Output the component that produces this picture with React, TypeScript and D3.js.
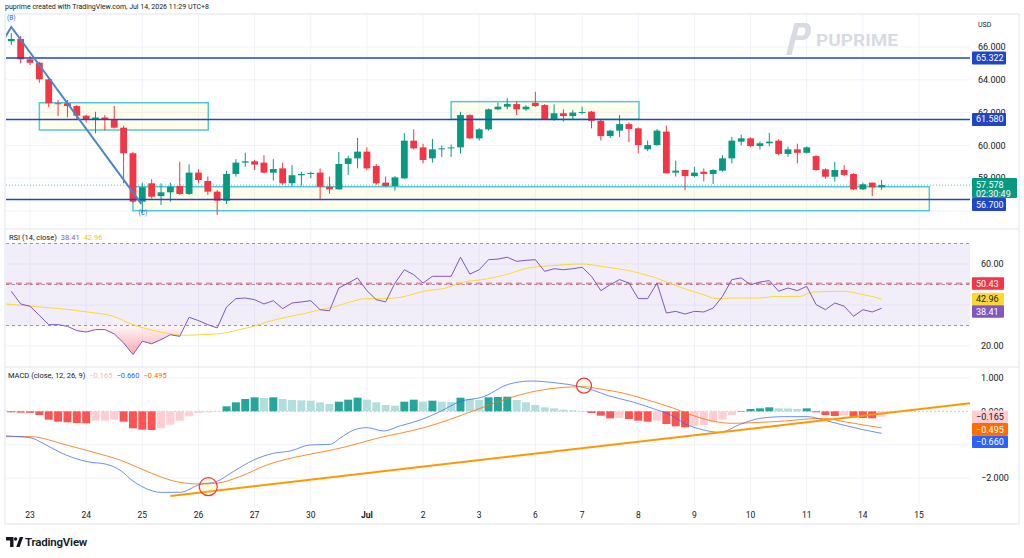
import React from 'react';
import * as d3 from 'd3';

const FONT = "Roboto, 'Noto Sans', 'DejaVu Sans', sans-serif";
const UP = '#089981';
const DOWN = '#f23645';

// 4h bars, index 0 is the first bar on screen
const opens = [
  66.35, 66.49, 65.25, 65.04, 64.03, 62.57, 62.57, 62.40, 61.81, 61.60,
  61.70, 61.60, 61.08, 59.52, 56.57, 57.69, 56.91, 57.14, 57.52, 57.04,
  58.34, 57.83, 57.18, 56.63, 58.26, 58.95, 59.03, 58.95, 58.34, 58.60,
  57.69, 58.18, 58.26, 58.34, 57.48, 57.32, 58.87, 59.21, 59.62, 58.74,
  57.73, 57.52, 57.99, 60.29, 59.88, 59.21, 59.76, 59.82, 59.88, 61.85,
  60.43, 60.98, 62.20, 62.36, 62.52, 62.20, 62.60, 62.46, 61.59, 61.96,
  61.79, 61.98, 62.06, 61.50, 60.57, 60.90, 61.30, 61.04, 59.76, 60.02,
  60.84, 58.34, 58.50, 58.13, 58.40, 58.26, 58.46, 59.21, 60.23, 60.43,
  59.96, 60.13, 60.29, 59.48, 59.76, 59.55, 59.35, 58.54, 58.09, 58.50,
  58.26, 57.32, 57.73, 57.45,
];
const highs = [
  66.84, 66.67, 65.45, 65.10, 64.05, 62.77, 62.77, 62.46, 61.87, 62.05,
  61.85, 62.40, 61.20, 59.60, 57.73, 57.94, 57.69, 57.73, 59.00, 58.84,
  58.55, 58.10, 57.28, 58.45, 59.16, 59.55, 59.12, 59.40, 59.16, 58.95,
  58.80, 58.40, 58.40, 58.60, 58.10, 59.60, 59.37, 60.45, 59.88, 58.87,
  58.10, 58.13, 60.75, 60.98, 60.10, 60.40, 60.00, 60.05, 62.05, 61.90,
  61.05, 62.25, 62.62, 62.87, 62.70, 62.45, 63.27, 62.52, 62.50, 62.20,
  62.15, 62.35, 62.10, 61.60, 60.95, 61.85, 61.40, 61.10, 60.30, 61.00,
  61.20, 59.07, 58.50, 58.70, 58.60, 58.55, 59.40, 60.53, 60.65, 60.50,
  60.23, 60.77, 60.38, 59.92, 60.10, 59.94, 59.40, 58.60, 59.00, 58.80,
  58.30, 57.73, 57.73, 57.90,
];
const lows = [
  66.12, 65.00, 64.90, 63.82, 62.33, 61.80, 61.71, 61.55, 61.40, 60.74,
  60.90, 61.04, 57.69, 56.50, 55.86, 56.76, 56.37, 56.57, 56.98, 56.98,
  57.69, 56.98, 55.76, 56.43, 58.10, 58.70, 58.50, 58.30, 57.85, 57.60,
  57.50, 57.55, 58.00, 56.67, 57.05, 57.30, 58.20, 58.60, 58.50, 57.60,
  57.46, 57.24, 57.95, 59.76, 58.90, 58.95, 59.30, 59.30, 59.50, 60.38,
  60.30, 60.90, 62.15, 62.20, 61.85, 62.10, 62.35, 61.55, 61.50, 61.45,
  61.55, 61.90, 61.04, 60.30, 60.45, 60.50, 60.20, 59.52, 59.65, 59.98,
  58.28, 58.10, 57.28, 58.05, 57.80, 57.65, 58.40, 58.90, 60.00, 59.90,
  59.75, 59.95, 59.40, 59.30, 58.90, 59.50, 58.45, 57.98, 57.79, 58.13,
  57.28, 57.28, 56.91, 57.30,
];
const closes = [
  66.49, 65.25, 65.04, 64.03, 62.57, 62.55, 62.40, 61.81, 61.55, 61.70,
  61.55, 61.08, 59.52, 56.57, 57.45, 56.87, 57.14, 57.48, 57.04, 58.34,
  57.89, 57.18, 56.63, 58.26, 58.95, 59.03, 58.83, 58.34, 58.56, 57.69,
  58.18, 58.26, 58.32, 57.48, 57.32, 58.87, 59.21, 59.62, 58.60, 57.69,
  57.52, 58.05, 60.29, 59.82, 59.11, 59.76, 59.82, 59.88, 61.85, 60.43,
  60.98, 62.20, 62.36, 62.52, 62.20, 62.36, 62.40, 61.59, 61.96, 61.79,
  62.00, 62.04, 61.50, 60.57, 60.90, 61.30, 61.00, 60.02, 60.02, 60.90,
  58.30, 58.46, 58.13, 58.34, 58.26, 58.50, 59.21, 60.29, 60.43, 59.96,
  60.13, 60.23, 59.48, 59.76, 59.55, 59.88, 58.50, 58.09, 58.50, 58.20,
  57.32, 57.63, 57.45, 57.578,
];

const rsiValues = [
  46.7, 40.5, 39.4, 35.0, 30.4, 30.4, 29.6, 27.5, 26.8, 28.0,
  28.0, 25.9, 21.5, 15.8, 22.3, 21.1, 23.1, 25.5, 24.7, 34.0,
  32.4, 30.4, 28.8, 39.0, 43.1, 43.4, 42.6, 40.5, 42.1, 38.2,
  41.0, 41.5, 42.1, 37.7, 37.2, 48.3, 50.7, 53.2, 47.0, 42.6,
  41.5, 50.7, 57.2, 54.8, 50.7, 54.0, 54.0, 54.0, 63.3, 55.1,
  57.2, 62.1, 62.4, 63.3, 61.3, 61.8, 62.1, 56.4, 57.7, 57.2,
  57.7, 58.4, 54.0, 47.0, 49.9, 52.4, 50.7, 43.1, 43.1, 50.7,
  36.1, 36.9, 35.6, 36.9, 36.6, 38.5, 44.2, 52.4, 53.2, 49.9,
  51.2, 51.9, 46.7, 48.3, 47.0, 49.1, 40.2, 37.7, 41.0, 39.4,
  34.5, 37.7, 36.6, 38.41,
];
// RSI-based moving average, sampled along the bar index
const rsiMaBars = [
  -0.6, 2.0, 5.2, 8.1, 10.9, 13.0, 14.8, 17.0, 18.2, 20.2, 22.3, 24.4, 25.9, 27.3, 29.4,
  31.6, 33.0, 34.4, 36.2, 38.0, 39.8, 41.5, 44.1, 46.7, 47.9, 50.9, 52.6, 55.2, 57.8, 61.0,
  62.9, 65.5, 68.9, 71.5, 74.0, 75.3, 77.0, 80.0, 81.7, 84.3, 85.6, 89.0, 90.7, 93,
];
const rsiMaValues = [
  40.5, 39.4, 38.2, 36.6, 34.5, 30.4, 28.0, 25.9, 25.2, 25.5, 26.0, 28.0, 29.6, 31.7, 34.0,
  36.1, 37.7, 38.9, 41.5, 43.1, 43.1, 43.7, 46.7, 48.6, 50.7, 52.8, 54.5, 58.0, 59.2, 60.0,
  58.9, 57.2, 53.2, 48.6, 45.0, 43.1, 43.4, 43.4, 44.2, 44.2, 46.3, 46.7, 45.4, 42.96,
];

const histValues = [
  -0.03, -0.04, -0.045, -0.11, -0.25, -0.31, -0.33, -0.35, -0.36, -0.28,
  -0.28, -0.25, -0.31, -0.51, -0.55, -0.56, -0.50, -0.40, -0.28, -0.15,
  -0.05, -0.03, -0.01, 0.15, 0.27, 0.37, 0.42, 0.40, 0.42, 0.37,
  0.34, 0.33, 0.32, 0.27, 0.22, 0.29, 0.35, 0.41, 0.35, 0.27,
  0.19, 0.17, 0.29, 0.35, 0.29, 0.32, 0.29, 0.28, 0.41, 0.37,
  0.34, 0.42, 0.43, 0.44, 0.34, 0.27, 0.19, 0.12, 0.09, 0.05,
  0.03, 0.005, -0.05, -0.13, -0.21, -0.20, -0.23, -0.28, -0.31, -0.28,
  -0.38, -0.45, -0.48, -0.45, -0.41, -0.33, -0.25, -0.11, 0.01, 0.07,
  0.09, 0.12, 0.09, 0.085, 0.07, 0.09, -0.03, -0.11, -0.14, -0.13,
  -0.18, -0.20, -0.21, -0.165,
];
const macdBars = [
  -0.6, 2.0, 3.4, 5.2, 8.1, 10.2, 11.6, 13.0, 14.8, 15.9, 18.0, 20.2, 21.9, 23.7, 25.9, 28.0,
  29.8, 31.9, 34.1, 35.1, 36.6, 38.0, 39.8, 41.5, 43.7, 45.8, 47.9, 50.5, 53.1, 55.6, 56.9,
  58.6, 60.3, 62.1, 63.8, 66.3, 68.5, 70.6, 71.9, 74.0, 75.7, 77.9, 80.0, 82.6, 85.1, 86.8,
  88.6, 90.7, 93,
];
const macdValues = [
  -0.74, -0.79, -0.96, -1.23, -1.51, -1.59, -1.76, -2.09, -2.36, -2.43, -2.43, -2.19, -2.11, -1.81, -1.46, -1.26,
  -1.19, -1.01, -0.99, -0.81, -0.56, -0.49, -0.59, -0.44, -0.26, -0.01, 0.29, 0.44, 0.81, 0.91, 0.89,
  0.84, 0.77, 0.64, 0.47, 0.29, 0.09, -0.13, -0.36, -0.56, -0.63, -0.39, -0.21, -0.16, -0.16, -0.26,
  -0.39, -0.53, -0.66,
];
const signalBars = [
  -0.6, 2.0, 5.9, 8.8, 11.6, 13.75, 15.9, 18.0, 20.2, 21.9, 24.4, 27.3, 30.1, 33.0, 35.8, 38.0,
  39.8, 41.5, 44.1, 46.7, 50.1, 53.1, 56.1, 58.6, 61.2, 62.9, 65.5, 68.0, 70.6, 72.7, 74.9,
  77.0, 80.0, 82.6, 85.1, 86.8, 89.0, 91.1, 93,
];
const signalValues = [
  -0.76, -0.76, -1.01, -1.23, -1.46, -1.71, -1.96, -2.13, -2.18, -2.16, -1.96, -1.61, -1.39, -1.23, -1.06, -0.89,
  -0.76, -0.66, -0.49, -0.26, 0.09, 0.39, 0.61, 0.71, 0.74, 0.67, 0.54, 0.34, 0.11, -0.11, -0.29,
  -0.36, -0.33, -0.29, -0.23, -0.21, -0.31, -0.41, -0.495,
];

// drawings
const levelPrices = [65.322, 61.58, 56.7];
const zoneFrom = [3, 47, 13];
const zoneTo = [21.05, 67.07, 98.1];
const zoneTop = [62.6, 62.67, 57.48];
const zoneBottom = [60.94, 61.59, 56.02];
const waveBars = [-2, 0, 13.9];
const wavePrices = [65.34, 67.22, 56.43];
const trendBars = [17, 103];
const trendValues = [-2.54, 0.26];
const crossBars = [21.05, 61.2];
const crossValues = [-2.26, 0.77];
const crossRadius = [9, 7.5];

const dayLabels = ['23', '24', '25', '26', '27', '30', 'Jul', '2', '3', '6', '7', '8', '9', '10', '11', '14', '15'];
const dayBars = [2, 8, 14, 20, 26, 32, 38, 44, 50, 56, 61, 67, 73, 79, 85, 91, 97];
const priceTicks = [66, 64, 62, 60, 58];
const priceGrid = [56, 58, 60, 62, 64, 66];
const rsiTicks = [60, 20];
const rsiGrid = [20, 40, 60];
const macdTicks = [1, 0, -2];
const macdGrid = [1, -1, -2];

// layout
const frameL = 5, frameR = 1019, frameT = 14, frameB = 524;
const plotL = 6, plotR = 970;
const priceTop = 14, priceBot = 229;
const rsiTop = 229, rsiBot = 367;
const macdTop = 367, macdBot = 505;
const axisX = 972;

const x = d3.scaleLinear().domain([0, 1]).range([11.3, 20.658]);
const step = x(1) - x(0);
const yP = d3.scaleLinear().domain([66, 56]).range([47, 211]);
const yR = d3.scaleLinear().domain([60, 20]).range([264, 346]);
const yM = d3.scaleLinear().domain([1, -2]).range([378, 478]);

const minus = (s: string) => s.replace('-', '\u2212');

type Tag = { y: number; h: number; off: number; text: string; sub?: string; bg: string; fg: string; w: number };

// stack axis tags downward so they never overlap
function stackTags(tags: Tag[]) {
  const sorted = [...tags].sort((a, b) => a.y - b.y);
  let prev = -Infinity;
  return sorted.map(t => {
    let top = t.y - t.off;
    if (top < prev) top = prev;
    prev = top + t.h;
    return { ...t, top };
  });
}

function TagBox({ t }: { t: Tag & { top: number } }) {
  return (
    <g>
      <rect x={axisX} y={t.top} width={t.w} height={t.h} fill={t.bg} rx={1} />
      <text x={axisX + 4} y={t.top + 9.5} fontSize={9} fill={t.fg}>{t.text}</text>
      {t.sub && <text x={axisX + 4} y={t.top + 19} fontSize={9} fill={t.fg}>{t.sub}</text>}
    </g>
  );
}

export default function App() {
  const pts = (bars: number[], vals: number[]) => bars.map((b, i) => [b, vals[i]] as [number, number]);

  const rsiLine = d3.line<number>().x((_, i) => x(i)).y(v => yR(v))(rsiValues) || '';
  const rsiArea = d3.area<number>().x((_, i) => x(i)).y0(yR(30)).y1(v => yR(v))(rsiValues) || '';
  const smooth = (scale: d3.ScaleLinear<number, number>) =>
    d3.line<[number, number]>().x(d => x(d[0])).y(d => scale(d[1])).curve(d3.curveMonotoneX);
  const rsiMaPath = smooth(yR)(pts(rsiMaBars, rsiMaValues)) || '';
  const macdPath = smooth(yM)(pts(macdBars, macdValues)) || '';
  const signalPath = smooth(yM)(pts(signalBars, signalValues)) || '';
  const wavePath = d3.line<[number, number]>().x(d => x(d[0])).y(d => yP(d[1]))(pts(waveBars, wavePrices)) || '';

  const histColor = (i: number) => {
    const v = histValues[i];
    const p = i > 0 ? histValues[i - 1] : 0;
    if (v >= 0) return v >= p ? '#26a69a' : '#b2dfdb';
    return v < p ? '#ff5252' : '#ffcdd2';
  };

  const last = closes[closes.length - 1];
  const priceTags = stackTags([
    { y: yP(levelPrices[0]), h: 13, off: 6.5, text: levelPrices[0].toFixed(3), bg: '#2145c8', fg: '#fff', w: 34 },
    { y: yP(levelPrices[1]), h: 13, off: 6.5, text: levelPrices[1].toFixed(3), bg: '#2145c8', fg: '#fff', w: 34 },
    { y: yP(last), h: 20, off: 7, text: last.toFixed(3), sub: '02:30:49', bg: UP, fg: '#fff', w: 45 },
    { y: yP(levelPrices[2]), h: 13, off: 6.5, text: levelPrices[2].toFixed(3), bg: '#2145c8', fg: '#fff', w: 34 },
  ]);
  const rsiLast = rsiValues[rsiValues.length - 1];
  const maLast = rsiMaValues[rsiMaValues.length - 1];
  const rsiTags = stackTags([
    { y: yR(50.43), h: 12.5, off: 6.25, text: '50.43', bg: DOWN, fg: '#fff', w: 32 },
    { y: yR(maLast), h: 12.5, off: 6.25, text: maLast.toFixed(2), bg: '#fdd835', fg: '#131722', w: 32 },
    { y: yR(rsiLast), h: 12.5, off: 6.25, text: rsiLast.toFixed(2), bg: '#7e57c2', fg: '#fff', w: 32 },
  ]);
  const histLast = histValues[histValues.length - 1];
  const macdLast = macdValues[macdValues.length - 1];
  const sigLast = signalValues[signalValues.length - 1];
  const macdTags = stackTags([
    { y: yM(histLast), h: 12.5, off: 6.25, text: minus(histLast.toFixed(3)), bg: '#ffcdd2', fg: '#131722', w: 36 },
    { y: yM(sigLast), h: 12.5, off: 6.25, text: minus(sigLast.toFixed(3)), bg: '#ff6d00', fg: '#fff', w: 36 },
    { y: yM(macdLast), h: 12.5, off: 6.25, text: minus(macdLast.toFixed(3)), bg: '#2962ff', fg: '#fff', w: 36 },
  ]);

  const gridC = '#f0f3fa';
  const sepC = '#e0e3eb';

  return (
    <div style={{ position: 'fixed', left: 0, top: 0 }}>
      <svg width={1024} height={558} fontFamily={FONT} style={{ display: 'block', background: '#fff' }}>
        <defs>
          <clipPath id="clipPrice"><rect x={plotL} y={priceTop} width={plotR - plotL} height={priceBot - priceTop} /></clipPath>
          <clipPath id="clipRsi"><rect x={plotL} y={rsiTop} width={plotR - plotL} height={rsiBot - rsiTop} /></clipPath>
          <clipPath id="clipOversold"><rect x={plotL} y={yR(30)} width={plotR - plotL} height={rsiBot - yR(30)} /></clipPath>
          <clipPath id="clipMacd"><rect x={plotL} y={macdTop} width={plotR - plotL} height={macdBot - macdTop} /></clipPath>
          <linearGradient id="oversold" gradientUnits="userSpaceOnUse" x1={0} x2={0} y1={yR(30)} y2={yR(15)}>
            <stop offset="0" stopColor="#f23645" stopOpacity={0.04} />
            <stop offset="1" stopColor="#f23645" stopOpacity={0.45} />
          </linearGradient>
        </defs>

        <text x={5} y={9} fontSize={7} fill="#131722">puprime created with TradingView.com, Jul 14, 2026 11:29 UTC+8</text>

        {/* grid */}
        {dayBars.map((b, i) => (
          <line key={'vg' + i} x1={x(b)} x2={x(b)} y1={frameT} y2={macdBot} stroke={gridC} />
        ))}
        {priceGrid.map(v => <line key={'pg' + v} x1={plotL} x2={plotR} y1={yP(v)} y2={yP(v)} stroke={gridC} />)}
        {rsiGrid.map(v => <line key={'rg' + v} x1={plotL} x2={plotR} y1={yR(v)} y2={yR(v)} stroke={gridC} />)}
        {macdGrid.map(v => <line key={'mg' + v} x1={plotL} x2={plotR} y1={yM(v)} y2={yM(v)} stroke={gridC} />)}

        {/* watermark */}
        <g fill="#d8dbe2">
          <path d="M786,55 L791.5,55 L800,23 L794.5,23 Z" />
          <path d="M797.5,23 L806,23 C813,23 813,38 804,40 L793,40 L794.2,35.5 L802.5,35.5 C806,35 806.5,27.5 803.5,27.5 L796.3,27.5 Z" />
          <text x={816} y={46} fontSize={17} fontWeight={700} textLength={82} lengthAdjust="spacingAndGlyphs">PUPRIME</text>
        </g>
        <text x={978} y={27} fontSize={7} fill="#131722">USD</text>

        {/* price pane */}
        <g clipPath="url(#clipPrice)">
          {zoneFrom.map((f, i) => (
            <rect key={'z' + i} x={x(f)} y={yP(zoneTop[i])} width={x(zoneTo[i]) - x(f)}
              height={yP(zoneBottom[i]) - yP(zoneTop[i])} fill="rgba(255,235,59,0.1)" stroke="#4fc9d9" strokeWidth={1.5} />
          ))}
          {opens.map((o, i) => {
            const c = closes[i];
            const col = c >= o ? UP : DOWN;
            const top = yP(Math.max(o, c));
            const bot = yP(Math.min(o, c));
            return (
              <g key={'c' + i}>
                <line x1={x(i)} x2={x(i)} y1={yP(highs[i])} y2={yP(lows[i])} stroke={col} strokeWidth={1} />
                <rect x={x(i) - 3.4} y={top} width={6.8} height={Math.max(1, bot - top)} fill={col} />
              </g>
            );
          })}
          {levelPrices.map(p => (
            <line key={'l' + p} x1={plotL} x2={plotR + 2} y1={yP(p)} y2={yP(p)} stroke="#2145c8" strokeWidth={1.5} />
          ))}
          <line x1={plotL} x2={plotR} y1={yP(last)} y2={yP(last)} stroke={UP} strokeOpacity={0.6} strokeDasharray="1,2" />
          <path d={wavePath} fill="none" stroke="#4a86cc" strokeWidth={2} />
          <text x={x(waveBars[1])} y={yP(wavePrices[1]) - 7} fontSize={6.5} fill="#2962ff" textAnchor="middle">(B)</text>
          <text x={x(waveBars[2]) + 1.5} y={yP(wavePrices[2]) + 11} fontSize={6.5} fill="#2962ff" textAnchor="middle">(C)</text>
        </g>

        {/* RSI pane */}
        <g clipPath="url(#clipRsi)">
          <rect x={plotL} y={yR(70)} width={plotR - plotL} height={yR(30) - yR(70)} fill="rgba(126,87,194,0.1)" />
          {[70, 50, 30].map(v => (
            <line key={'rb' + v} x1={plotL} x2={plotR} y1={yR(v)} y2={yR(v)} stroke="#9598a1" strokeDasharray="3,3" strokeWidth={1} />
          ))}
          <line x1={plotL} x2={plotR} y1={yR(50.43)} y2={yR(50.43)} stroke={DOWN} strokeOpacity={0.55} strokeWidth={2} strokeDasharray="6,4" />
          <path d={rsiArea} fill="url(#oversold)" clipPath="url(#clipOversold)" />
          <path d={rsiMaPath} fill="none" stroke="#fdd835" strokeWidth={1} />
          <path d={rsiLine} fill="none" stroke="#7e57c2" strokeWidth={1} />
        </g>
        <text x={9} y={240} fontSize={7.5} fill="#131722">
          RSI (14, close)<tspan dx={4} fill="#7e57c2">{rsiLast.toFixed(2)}</tspan>
          <tspan dx={4} fill="#f0c419">{maLast.toFixed(2)}</tspan>
        </text>

        {/* MACD pane */}
        <g clipPath="url(#clipMacd)">
          <line x1={plotL} x2={plotR} y1={yM(0)} y2={yM(0)} stroke="#c8cad0" strokeDasharray="2,2" />
          {histValues.map((v, i) => (
            <rect key={'h' + i} x={x(i) - (step - 1.4) / 2} y={Math.min(yM(v), yM(0))} width={step - 1.4}
              height={Math.max(0.5, Math.abs(yM(v) - yM(0)))} fill={histColor(i)} />
          ))}
          <path d={signalPath} fill="none" stroke="#ff6d00" strokeOpacity={0.8} strokeWidth={1} />
          <path d={macdPath} fill="none" stroke="#2962ff" strokeOpacity={0.7} strokeWidth={1} />
          <line x1={x(trendBars[0])} x2={x(trendBars[1])} y1={yM(trendValues[0])} y2={yM(trendValues[1])}
            stroke="#ff9800" strokeWidth={2} />
          {crossBars.map((b, i) => (
            <circle key={'o' + i} cx={x(b)} cy={yM(crossValues[i])} r={crossRadius[i]}
              fill="rgba(255,235,59,0.15)" stroke={DOWN} strokeWidth={1.2} />
          ))}
        </g>
        <text x={8} y={378} fontSize={7.5} fill="#131722">
          MACD (close, 12, 26, 9)<tspan dx={4} fill="#ffb3bb">{minus(histLast.toFixed(3))}</tspan>
          <tspan dx={4} fill="#2962ff">{minus(macdLast.toFixed(3))}</tspan>
          <tspan dx={4} fill="#ff6d00">{minus(sigLast.toFixed(3))}</tspan>
        </text>

        {/* pane separators and frame */}
        <line x1={frameL} x2={frameR} y1={rsiTop} y2={rsiTop} stroke={sepC} />
        <line x1={frameL} x2={frameR} y1={macdTop} y2={macdTop} stroke={sepC} />
        <rect x={frameL} y={frameT} width={frameR - frameL} height={frameB - frameT} fill="none" stroke={sepC} />

        {/* right axis ticks */}
        {priceTicks.map(v => (
          <text key={'pt' + v} x={978} y={yP(v) + 3.2} fontSize={9} fill="#131722">{v.toFixed(3)}</text>
        ))}
        {rsiTicks.map(v => (
          <text key={'rt' + v} x={981} y={yR(v) + 3.2} fontSize={9} fill="#131722">{v.toFixed(2)}</text>
        ))}
        {macdTicks.map(v => (
          <text key={'mt' + v} x={981} y={yM(v) + 3.2} fontSize={9} fill="#131722">{minus(v.toFixed(3))}</text>
        ))}
        {priceTags.map((t, i) => <TagBox key={'ptag' + i} t={t} />)}
        {rsiTags.map((t, i) => <TagBox key={'rtag' + i} t={t} />)}
        {macdTags.map((t, i) => <TagBox key={'mtag' + i} t={t} />)}

        {/* time axis */}
        {dayLabels.map((d, i) => (
          <text key={'d' + i} x={x(dayBars[i])} y={518} fontSize={8.5} textAnchor="middle"
            fill="#131722" fontWeight={d === 'Jul' ? 700 : 400}>{d}</text>
        ))}

        {/* footer logo */}
        <g fill="#131722">
          <path d="M6,537 h7.5 v10 h-3.4 v-6.6 h-4.1 z" />
          <circle cx={15.6} cy={539} r={1.7} />
          <path d="M16.2,547 l3.6,-10 h3.4 l-3.6,10 z" />
          <text x={25} y={546} fontSize={11.5} fontWeight={600} letterSpacing={-0.2}>TradingView</text>
        </g>
      </svg>
    </div>
  );
}
